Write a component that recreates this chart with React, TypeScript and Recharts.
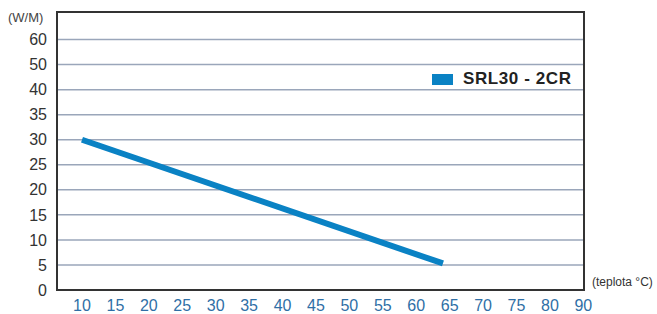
import {
  LineChart,
  Line,
  XAxis,
  YAxis,
  CartesianGrid,
  ReferenceArea,
} from "recharts";

// temperature (°C) vs output (W/m)
const tempC = [10, 64];
const powerWm = [30, 5.3];

// y axis is not linear above 35: 40, 50, 60 sit on equal steps
const yTickPos = [0, 5, 10, 15, 20, 25, 30, 35, 40, 45, 50];
const yTickLabels = ["0", "5", "10", "15", "20", "25", "30", "35", "40", "50", "60"];

// x labels: the last step jumps from 80 to 90
const xTickPos = [10, 15, 20, 25, 30, 35, 40, 45, 50, 55, 60, 65, 70, 75, 80, 85];
const xTickLabels = ["10", "15", "20", "25", "30", "35", "40", "45", "50", "55", "60", "65", "70", "75", "80", "90"];

const SERIES = "SRL30 - 2CR";
const FONT = "'Liberation Sans', Arial, sans-serif";

const data = tempC.map((t, i) => ({ x: t, y: powerWm[i] }));

export default function App() {
  return (
    <div style={{ position: "relative", width: 657, height: 314, background: "#fff", fontFamily: FONT }}>
      <style>{`body{margin:0}`}</style>
      <div style={{ position: "absolute", left: 8, top: 10, fontSize: 13, color: "#444" }}>(W/M)</div>
      <div style={{ position: "absolute", left: 592, top: 275, fontSize: 12, color: "#333" }}>(teplota °C)</div>
      <div style={{ position: "absolute", left: 432, top: 69, display: "flex", alignItems: "center", zIndex: 1 }}>
        <span style={{ display: "inline-block", width: 21, height: 11, background: "#0a82c4", marginRight: 10 }} />
        <span style={{ fontWeight: 700, fontSize: 17, letterSpacing: 0.6, color: "#222" }}>{SERIES}</span>
      </div>
      <LineChart width={657} height={314} data={data} margin={{ top: 12, right: 73, left: 0, bottom: 0 }}>
        <CartesianGrid horizontal vertical={false} stroke="#9aa6ba" strokeWidth={1.5} />
        <XAxis
          type="number"
          dataKey="x"
          domain={[6.26, 85.1]}
          ticks={xTickPos}
          tickFormatter={(v: number) => xTickLabels[xTickPos.indexOf(v)] ?? ""}
          tick={{ fill: "#2f6fa6", fontSize: 16, fontFamily: FONT }}
          tickLine={false}
          tickSize={0}
          tickMargin={10}
          height={24}
          axisLine={{ stroke: "#333", strokeWidth: 2 }}
          allowDataOverflow
        />
        <YAxis
          type="number"
          domain={[0, 55.5]}
          ticks={yTickPos}
          tickFormatter={(v: number) => yTickLabels[yTickPos.indexOf(v)] ?? ""}
          tick={{ fill: "#333", fontSize: 16, fontFamily: FONT }}
          tickLine={false}
          tickSize={0}
          tickMargin={10}
          width={57}
          axisLine={{ stroke: "#333", strokeWidth: 2 }}
          allowDataOverflow
        />
        <ReferenceArea x1={6.26} x2={85.1} y1={0} y2={55.5} fill="none" stroke="#333" strokeWidth={2} />
        <Line
          type="linear"
          dataKey="y"
          name={SERIES}
          stroke="#0a82c4"
          strokeWidth={6}
          dot={false}
          activeDot={false}
          isAnimationActive={false}
        />
      </LineChart>
    </div>
  );
}
